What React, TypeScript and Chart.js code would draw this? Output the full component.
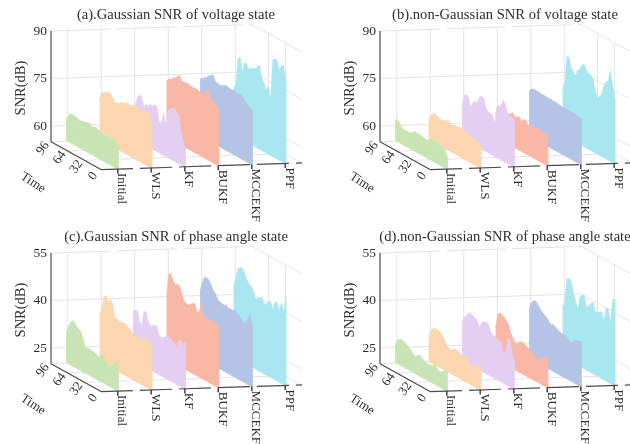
import React, { useEffect, useRef } from "react";
import { Chart, registerables } from "chart.js";

Chart.register(...registerables);

const methods = ["Initial", "WLS", "KF", "BUKF", "MCCEKF", "PPF"];
const slabColors = ["#c9e4b4", "#fbd6ae", "#e4cff3", "#f9b7a5", "#b4c4e6", "#a9e7f0"];
// Time of each sample, back of the plot to the front
const timeSamples = [96, 92, 88, 84, 80, 76, 72, 68, 64, 60, 56, 52, 48, 44, 40, 36, 32, 28, 24, 20, 16, 12, 8, 4, 0];
const timeTicks = [96, 64, 32, 0];

// (a) Gaussian SNR of voltage state
const aInitial = [61.8, 63.2, 64.2, 64.3, 64.1, 64.2, 63.8, 63.8, 64, 64.2, 64.4, 64.5, 63.8, 64.4, 64.3, 63.9, 63.9, 63.2, 63.3, 63.6, 63.8, 63.6, 63.4, 63, 62];
const aWLS = [67.5, 70, 70.5, 71, 71.4, 71.4, 70.5, 69.2, 69.6, 69.7, 70.6, 70.5, 71.1, 71.4, 71.1, 71.3, 72, 71.3, 71.6, 71.6, 71.8, 72, 72.4, 72.4, 68.5];
const aKF = [63.2, 65.6, 68.7, 70, 69.4, 66.6, 68, 68, 68.7, 68.6, 69.4, 69.3, 64.9, 64.5, 68.3, 64.9, 69.5, 70.9, 71.2, 72, 70.9, 70.3, 65.8, 63.1, 60.8];
const aBUKF = [72.8, 73.7, 74, 74.9, 75.2, 76, 76.8, 75.3, 75.4, 75.5, 75.7, 75.4, 75.3, 75.4, 75.4, 75.1, 75.1, 75.2, 76.5, 77, 75.3, 75.1, 74.5, 73.7, 72.6];
const aMCCEKF = [73, 73.5, 74.2, 74.7, 75.5, 76, 76.6, 75, 74.6, 74.6, 74.7, 75.1, 75.6, 75.3, 75.1, 75.2, 75.2, 75.1, 75, 75.1, 74.4, 73.7, 73, 72.7, 72.2];
const aPPF = [70, 70.9, 79.8, 80.6, 76.7, 79.5, 79.8, 78.3, 78.9, 79.5, 79.6, 80.8, 81.6, 77.8, 76.6, 74.9, 76.5, 72.7, 85.6, 86.3, 86.2, 83.5, 85.3, 85.6, 81.3];

// (b) non-Gaussian SNR of voltage state
const bInitial = [61.3, 62, 61.5, 60.3, 59.9, 60, 60, 60, 60.7, 61.2, 61.2, 61.1, 61.1, 61, 60.8, 60.7, 61.5, 61.6, 61.7, 61.8, 61.6, 61.5, 61.3, 60.7, 59.1];
const bWLS = [61.6, 62.9, 63.8, 64.3, 63.9, 63.5, 63.4, 63.4, 63.8, 64.5, 63.5, 63.5, 63.9, 64, 64.2, 64.3, 63.8, 63.9, 63.7, 63.5, 63.2, 62.9, 62.9, 62.9, 62.5];
const bKF = [65.8, 68.8, 69.6, 69, 66.3, 68.2, 69, 68.9, 71.1, 71.7, 71.5, 68.8, 67.8, 67.8, 67.7, 65.2, 70.6, 71.2, 72.4, 74.3, 73, 70.8, 70.3, 70.5, 69.5];
const bBUKF = [62.3, 65.3, 65.1, 65, 64.8, 64.9, 64.5, 65.1, 65.7, 64.5, 65.4, 65.5, 64.5, 65.6, 65.5, 64.6, 64.6, 65, 64.9, 65, 65.3, 65.1, 64.7, 64.6, 64.7];
const bMCCEKF = [69, 70.2, 70.6, 70.7, 70.5, 70.6, 70.4, 70.5, 70.4, 70.3, 70.5, 70.4, 70.2, 70.3, 70.2, 70, 70.1, 70.2, 70, 70.1, 70, 70.1, 69.8, 69.7, 69.5];
const bPPF = [69.6, 72, 80.5, 80.6, 77.7, 76.4, 76, 78.1, 78.9, 80.6, 81, 79.5, 78.8, 78.9, 77.8, 74.9, 72.6, 73.7, 74.7, 77.8, 79.3, 80.2, 83.9, 79.3, 76];

// (c) Gaussian SNR of phase angle state
const cInitial = [29.5, 31.6, 33.4, 34.4, 34.1, 33.1, 32.7, 32, 30.2, 28.2, 28.3, 28.5, 28.2, 28.1, 27.9, 27.5, 28.1, 29.3, 27.6, 26.3, 26.4, 27, 27.9, 28.8, 28.6];
const cWLS = [35.4, 36.3, 41.1, 41.8, 40, 41.5, 40.7, 36.5, 36.4, 36.2, 36.1, 36.5, 36.3, 35.9, 35.5, 34.8, 34.1, 34.2, 34.2, 34.6, 34.9, 35, 35.3, 34.7, 34];
const cKF = [35.6, 36.3, 36.5, 33.5, 32.3, 37.4, 37.5, 34.9, 34, 34.4, 34.7, 35.1, 32.5, 32.1, 32.4, 33.3, 33.8, 33.3, 33.1, 32.4, 32, 34.2, 34.8, 33.6, 34.7];
const cBUKF = [40.4, 47.2, 47.7, 45.8, 45, 45.5, 45.3, 43.5, 41.3, 41.1, 40.9, 41.5, 42.1, 42.5, 40, 40.6, 43.6, 40.2, 40.1, 40.1, 40.1, 40.1, 40.2, 40.1, 39.7];
const cMCCEKF = [41.2, 44.1, 46.3, 46.4, 46.3, 45, 43.8, 43.2, 41.7, 41.1, 41.1, 40.9, 41.3, 40.7, 40.9, 40.7, 41.2, 40.4, 40.2, 39.6, 38.3, 39.3, 40.6, 42.9, 39.3];
const cPPF = [42.3, 45.4, 48.6, 49.3, 49.6, 48.4, 46.9, 45.9, 45.3, 44.5, 42.5, 42.6, 43.2, 43.9, 42.1, 42.2, 43.9, 43.8, 41.8, 44.6, 44.8, 42.5, 45.6, 42.9, 48.5];

// (d) non-Gaussian SNR of phase angle state
const dInitial = [25.6, 27.4, 28.1, 28.4, 28.3, 27.8, 27.4, 26.7, 26, 25.4, 25.9, 26.6, 26.4, 25.7, 25.6, 25.1, 25.5, 25.4, 26.2, 25.8, 25.1, 24.7, 25.5, 26.2, 26];
const dWLS = [26.5, 30, 31.1, 31.5, 31.6, 31.5, 30.7, 30, 28.8, 27.8, 27.5, 27.8, 28.5, 28.5, 28.1, 27.9, 27.8, 28.2, 27.9, 26.4, 26.3, 26.6, 27, 27.4, 27.5];
const dKF = [31.9, 34, 34.7, 36.1, 36.2, 36.1, 35.6, 35.2, 33.2, 35.2, 36, 36.2, 36.2, 34.4, 33.3, 33.4, 32.9, 32.7, 32.4, 29.3, 30.1, 34.7, 35, 30.7, 29.5];
const dBUKF = [30, 34.5, 35.4, 35.1, 34.7, 33.9, 33.2, 30.8, 29.7, 28.4, 28.8, 29.7, 30, 29.9, 29.5, 29.3, 28.8, 28.7, 27.5, 27.1, 27.5, 28.2, 28.9, 29.3, 29.4];
const dMCCEKF = [35.7, 37.8, 38.9, 39.1, 38.4, 37.5, 36.8, 36.3, 35.8, 35.2, 34.2, 34.8, 34.4, 34, 33.8, 33.4, 33.5, 33.6, 32.8, 32.2, 32.7, 33.5, 33.8, 34.2, 34.2];
const dPPF = [35.5, 38, 45.5, 45.9, 45.4, 42.1, 40, 37.8, 42.1, 42.9, 43.2, 40, 40.6, 41.8, 42.6, 40.1, 40.2, 40.6, 41.2, 38.6, 42.9, 43.3, 39.5, 46.9, 47.4];

const voltageTicks = [60, 75, 90];
const phaseTicks = [25, 40, 55];

const panels = [
  { title: "(a).Gaussian SNR of voltage state", left: -4, top: 0, floor: 55, ticks: voltageTicks, series: [aInitial, aWLS, aKF, aBUKF, aMCCEKF, aPPF] },
  { title: "(b).non-Gaussian SNR of voltage state", left: 325, top: 0, floor: 55, ticks: voltageTicks, series: [bInitial, bWLS, bKF, bBUKF, bMCCEKF, bPPF] },
  { title: "(c).Gaussian SNR of phase angle state", left: -4, top: 222, floor: 20, ticks: phaseTicks, series: [cInitial, cWLS, cKF, cBUKF, cMCCEKF, cPPF] },
  { title: "(d).non-Gaussian SNR of phase angle state", left: 325, top: 222, floor: 20, ticks: phaseTicks, series: [dInitial, dWLS, dKF, dBUKF, dMCCEKF, dPPF] },
];

// Oblique view: category position c and depth d (toward the viewer) map onto the chart's x and y scales.
const DEPTH = 1.493;
const DROP = 5.87;
const TILT = 0.35;
const AXIS_W = 55;
const SERIF = "'Liberation Serif', 'Times New Roman', serif";
const project = (c: number, d: number, v: number) => ({ x: c + d, y: v - DROP * d + TILT * c });
const seg = (data: any[], color: string, width = 1, dash: number[] = []) => ({
  data, borderColor: color, borderWidth: width, borderDash: dash, showLine: true, pointRadius: 0, fill: false, clip: false,
});

function buildDatasets(p: any) {
  const top = p.floor + 35;
  const depthOf = (t: number) => (DEPTH * (96 - t)) / 96;
  const ds: any[] = [];
  const AXIS = "#4a4a4a";
  const GRID = "#e3e3e3";
  // axes, on top
  ds.push(seg([project(0, 0, p.floor), project(0, 0, top)], AXIS, 1.2));
  ds.push(seg([project(0, 0, p.floor), project(0, DEPTH, p.floor)], AXIS, 1.2));
  ds.push(seg([project(0, DEPTH, p.floor), project(6, DEPTH, p.floor)], AXIS, 1.2, [32, 7]));
  methods.forEach((_, i) => {
    const pt = project(i + 0.5, DEPTH, p.floor);
    ds.push(seg([pt, { x: pt.x, y: pt.y - 1.4 }], AXIS, 1));
  });
  // slabs: first is nearest the viewer
  p.series.forEach((vals: number[], i: number) => {
    const c = i + 0.5;
    const slabD = (t: number) => -0.05 + (1.56 * (96 - t)) / 96;
    const outline = timeSamples.map((t, k) => project(c, slabD(t), vals[k]));
    outline.push(project(c, slabD(0), p.floor), project(c, slabD(96), p.floor));
    ds.push({
      label: methods[i], data: outline, showLine: true, pointRadius: 0, borderWidth: 0.5,
      borderColor: slabColors[i], backgroundColor: slabColors[i], fill: "shape", clip: false,
    });
  });
  // wall and floor grid, behind
  const levels = [...p.ticks.slice(0, 2), top];
  levels.forEach((v: number) => {
    ds.push(seg([project(0, 0, v), project(6, 0, v)], GRID, 1, v === top ? [60, 6] : []));
    ds.push(seg([project(6, 0, v), project(6, DEPTH, v)], GRID));
  });
  methods.forEach((_, i) => {
    ds.push(seg([project(i + 0.5, 0, p.floor), project(i + 0.5, 0, top)], GRID));
    ds.push(seg([project(i + 0.5, 0, p.floor), project(i + 0.5, DEPTH, p.floor)], GRID));
  });
  timeTicks.slice(1, 3).forEach((t) => {
    const d = depthOf(t);
    ds.push(seg([project(6, d, p.floor), project(6, d, top)], GRID));
    ds.push(seg([project(0, d, p.floor), project(6, d, p.floor)], GRID));
  });
  ds.push(seg([project(0, 0, p.floor), project(6, 0, p.floor)], GRID));
  ds.push(seg([project(6, 0, p.floor), project(6, DEPTH, p.floor)], GRID));
  return ds;
}

function makeChart(canvas: HTMLCanvasElement, p: any) {
  const W = 360;
  const labelsPlugin = {
    id: "axisTexts",
    afterDraw(chart: any) {
      const { ctx, scales } = chart;
      const px = (pt: { x: number; y: number }) => [scales.x.getPixelForValue(pt.x), scales.y.getPixelForValue(pt.y)];
      const put = (text: string, x: number, y: number, rot: number, align: CanvasTextAlign) => {
        ctx.save();
        ctx.translate(x, y);
        ctx.rotate(rot);
        ctx.textAlign = align;
        ctx.textBaseline = "middle";
        ctx.fillText(text, 0, 0);
        ctx.restore();
      };
      ctx.save();
      ctx.fillStyle = "#2e2e2e";
      ctx.font = `14.5px ${SERIF}`;
      const [ax, ay] = px(project(0, 0, p.floor + 35));
      put("SNR(dB)", ax - 30, ay + 57, -Math.PI / 2, "center");
      ctx.font = `13px ${SERIF}`;
      methods.forEach((m, i) => {
        const [x, y] = px(project(i + 0.5, DEPTH, p.floor));
        put(m, x + 4, y + 4, Math.PI / 2, "left");
      });
      timeTicks.forEach((t) => {
        const [x, y] = px(project(0, (DEPTH * (96 - t)) / 96, p.floor));
        put(String(t), x - 8, y + 6.5, (-55 * Math.PI) / 180, "center");
      });
      const [tx, ty] = px(project(0, DEPTH / 2, p.floor));
      put("Time", tx - 43, ty + 27, (33 * Math.PI) / 180, "center");
      ctx.restore();
    },
  };
  return new Chart(canvas, {
    type: "scatter",
    data: { datasets: buildDatasets(p) },
    plugins: [labelsPlugin],
    options: {
      responsive: false,
      animation: false,
      events: [],
      layout: { padding: { top: 0, left: 0, right: 0, bottom: 222 - 31 - 50 * (110.83 / 35) } },
      plugins: {
        legend: { display: false },
        tooltip: { enabled: false },
        title: {
          display: true, text: p.title, color: "#2e2e2e",
          font: { family: SERIF, size: 14.6, weight: "normal" }, padding: { top: 6, bottom: 7.5 },
        },
      },
      scales: {
        x: { type: "linear", min: 0, max: (W - AXIS_W) / 33.5, display: false },
        y: {
          type: "linear", min: p.floor - 15, max: p.floor + 35,
          grid: { display: false, drawTicks: false }, border: { display: false },
          afterBuildTicks: (axis: any) => { axis.ticks = p.ticks.map((value: number) => ({ value })); },
          afterFit: (axis: any) => { axis.width = AXIS_W; },
          ticks: { color: "#2e2e2e", font: { family: SERIF, size: 13.5 }, padding: 4 },
        },
      },
    } as any,
  });
}

export default function App() {
  const refs = useRef<(HTMLCanvasElement | null)[]>([]);
  useEffect(() => {
    const charts = panels.map((p, i) => makeChart(refs.current[i] as HTMLCanvasElement, p));
    return () => charts.forEach((c) => c.destroy());
  }, []);
  return (
    <div style={{ position: "fixed", left: 0, top: 0, width: 630, height: 444, overflow: "hidden", background: "#fff" }}>
      {panels.map((p, i) => (
        <canvas
          key={p.title}
          ref={(el) => { refs.current[i] = el; }}
          width={360}
          height={222}
          style={{ position: "absolute", left: p.left, top: p.top, width: 360, height: 222, filter: "blur(0.4px)" }}
        />
      ))}
    </div>
  );
}
